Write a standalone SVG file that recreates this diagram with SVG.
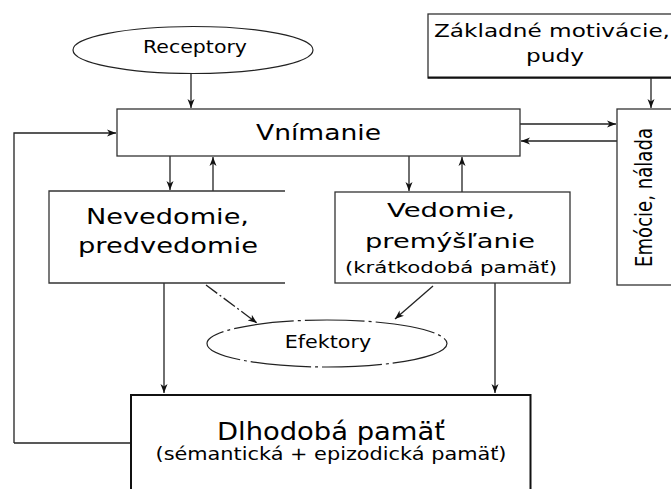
<svg xmlns="http://www.w3.org/2000/svg" width="671" height="489" viewBox="0 0 671 489">
<style>
.box{fill:#fff;stroke:#333;stroke-width:1.3}
.ell{fill:#fff;stroke:#222;stroke-width:1.2}
.ln{fill:none;stroke:#222;stroke-width:1.3}
text{font-family:"DejaVu Sans","Verdana",sans-serif;fill:#000;text-anchor:middle}
</style>
<defs>
<marker id="ah" markerUnits="userSpaceOnUse" markerWidth="10" markerHeight="8" refX="9" refY="4" orient="auto">
<path d="M0,0.5 L9,4 L0,7.5 L2.5,4 Z" fill="#111"/>
</marker>
</defs>
<rect width="671" height="489" fill="#fff"/>

<g id="connectors">
<path class="ln" d="M191,74 V108" marker-end="url(#ah)"/>
<path class="ln" d="M14,443 V133 H116" marker-end="url(#ah)"/>
<path class="ln" d="M131,443 H14"/>
<path class="ln" d="M170,156 V190" marker-end="url(#ah)"/>
<path class="ln" d="M213,191 V157" marker-end="url(#ah)"/>
<path class="ln" d="M409,156 V191" marker-end="url(#ah)"/>
<path class="ln" d="M462,192 V157" marker-end="url(#ah)"/>
<path class="ln" d="M651,78 V108" marker-end="url(#ah)"/>
<path class="ln" d="M520,124 H616" marker-end="url(#ah)"/>
<path class="ln" d="M617,141 H521" marker-end="url(#ah)"/>
<path class="ln" d="M206,285 L257,323" stroke-dasharray="14 3 2 3" marker-end="url(#ah)"/>
<path class="ln" d="M433,286 L395,319" marker-end="url(#ah)"/>
<path class="ln" d="M164,283 V393" marker-end="url(#ah)"/>
<path class="ln" d="M495,283 V393" marker-end="url(#ah)"/>
</g>

<g id="receptory">
<ellipse class="ell" cx="193" cy="50" rx="120" ry="23.5"/>
<text x="195" y="53" font-size="17" textLength="104" lengthAdjust="spacingAndGlyphs">Receptory</text>
</g>

<g id="vnimanie">
<rect class="box" x="117" y="109" width="403" height="47"/>
<text x="318.5" y="140" font-size="22" textLength="125" lengthAdjust="spacingAndGlyphs">Vnímanie</text>
</g>

<g id="zakladne">
<rect class="box" x="428" y="14" width="260" height="64"/>
<path d="M428,77.5 H671" stroke="#111" stroke-width="2"/>
<text x="552" y="37" font-size="17.5" textLength="236" lengthAdjust="spacingAndGlyphs">Základné motivácie,</text>
<text x="555" y="62" font-size="17.5" textLength="58" lengthAdjust="spacingAndGlyphs">pudy</text>
</g>

<g id="emocie">
<rect class="box" x="617" y="109" width="70" height="176"/>
<text transform="translate(652,197.5) rotate(-90)" font-size="23" textLength="139" lengthAdjust="spacingAndGlyphs">Emócie, nálada</text>
</g>

<g id="nevedomie">
<rect x="49" y="191" width="236" height="92" fill="#fff"/>
<path class="ln" d="M285,191 H49 V283 H285" style="stroke:#333"/>
<text x="167.5" y="224" font-size="22" textLength="163" lengthAdjust="spacingAndGlyphs">Nevedomie,</text>
<text x="168" y="253" font-size="22" textLength="180" lengthAdjust="spacingAndGlyphs">predvedomie</text>
</g>

<g id="vedomie">
<rect class="box" x="335" y="192" width="235" height="91"/>
<text x="451" y="217" font-size="20" textLength="128" lengthAdjust="spacingAndGlyphs">Vedomie,</text>
<text x="450" y="248" font-size="20" textLength="170" lengthAdjust="spacingAndGlyphs">premýšľanie</text>
<text x="451" y="273" font-size="16" textLength="212" lengthAdjust="spacingAndGlyphs">(krátkodobá pamäť)</text>
</g>

<g id="efektory">
<ellipse class="ell" cx="327" cy="343.5" rx="120" ry="23.5" stroke-dasharray="60 4 3 4"/>
<text x="328" y="348" font-size="17" textLength="86.5" lengthAdjust="spacingAndGlyphs">Efektory</text>
</g>

<g id="dlhodoba">
<rect class="box" x="131" y="395" width="399.5" height="110" style="stroke-width:2;stroke:#111"/>
<text x="331" y="440" font-size="25" textLength="228" lengthAdjust="spacingAndGlyphs">Dlhodobá pamäť</text>
<text x="331" y="460" font-size="17" textLength="351" lengthAdjust="spacingAndGlyphs">(sémantická + epizodická pamäť)</text>
</g>
</svg>
